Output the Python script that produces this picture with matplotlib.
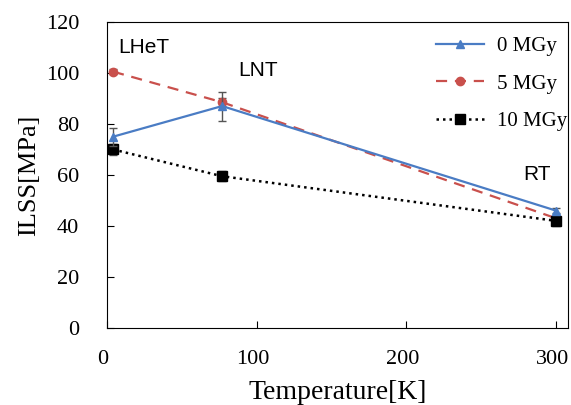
import numpy as np
import matplotlib.pyplot as plt
from matplotlib.lines import Line2D
from matplotlib.transforms import ScaledTranslation

# temperatures: LHe, LN2, room temperature
temps = [4.2, 77, 300]

ilss_0 = [75, 87, 46]
err_0 = [3.5, 5.7, 1.0]
ilss_5 = [100.5, 88.5, 43]
err_5 = [1.0, 1.5, 1.0]
ilss_10 = [70, 59.5, 42]
err_10 = [2.0, 2.0, 2.0]

plt.rcParams['font.family'] = ['Liberation Serif', 'DejaVu Serif']

fig = plt.figure(figsize=(5.71, 4.05), dpi=100)
ax = fig.add_axes([0.187, 0.190, 0.808, 0.756])

styles = [
    dict(color='#4A7CC4', lw=1.6, ls='-', marker='^', ms=6, label='0 MGy'),
    dict(color='#C9504C', lw=1.6, ls=(0, (5, 3.5)), marker='o', ms=6, label='5 MGy'),
    dict(color='black', lw=1.8, ls=(0, (1, 1.6)), marker='s', ms=7, label='10 MGy'),
]
series = [(ilss_0, err_0, 3), (ilss_5, err_5, 2), (ilss_10, err_10, 2)]

handles = []
for (vals, err, z), st in zip(series, styles):
    ax.errorbar(temps, vals, yerr=err, ecolor='#555555', elinewidth=1, capsize=3,
                zorder=z, **st)
    handles.append(Line2D([], [], **st))

for txt, x, y in [('LHeT', 25, 110), ('LNT', 101, 101), ('RT', 287, 60)]:
    ax.text(x, y, txt, fontsize=15, family='Liberation Sans', ha='center', va='center')

ax.set_xlim(0, 308)
ax.set_ylim(0, 120)
ax.set_xticks([0, 100, 200, 300])
ax.set_yticks(np.arange(0, 121, 20))
ax.tick_params(direction='in', labelsize=16, length=5)
ax.tick_params(axis='x', pad=16)
ax.tick_params(axis='y', pad=20)
# x tick labels sit a little left of their ticks in the original
shift = ScaledTranslation(-4 / 100, 0, fig.dpi_scale_trans)
for lab in ax.get_xticklabels():
    lab.set_transform(lab.get_transform() + shift)
ax.set_xlabel('Temperature[K]', fontsize=20, labelpad=8)
ax.set_ylabel('ILSS[MPa]', fontsize=19, labelpad=4)

ax.legend(handles=handles, loc='upper right', bbox_to_anchor=(1.02, 0.985), frameon=False,
          fontsize=15, handlelength=2.3, labelspacing=0.85, borderaxespad=0.0,
          borderpad=0.5, handletextpad=0.6)

fig.savefig('out.png', dpi=100)
